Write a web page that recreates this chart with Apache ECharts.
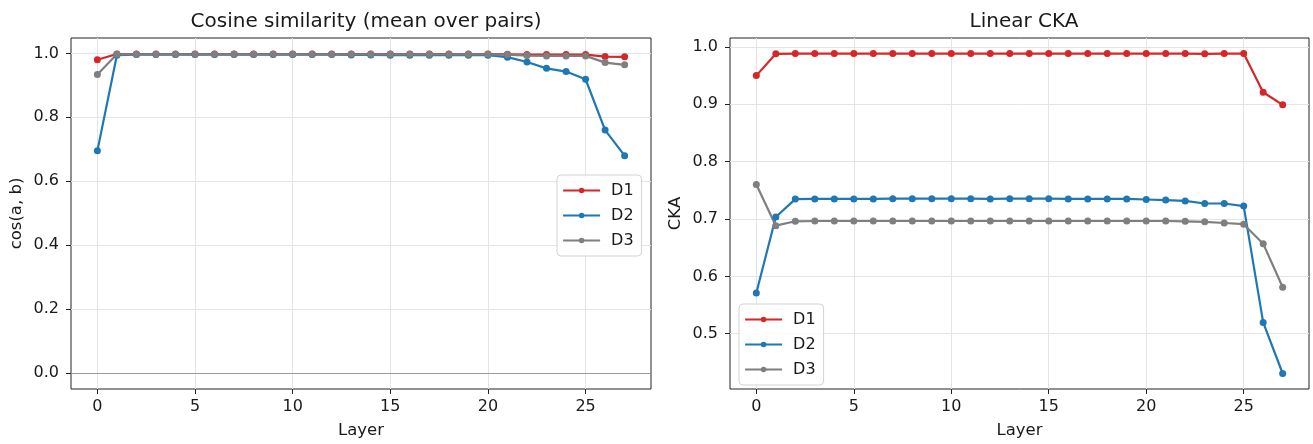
<!DOCTYPE html>
<html>
<head>
<meta charset="utf-8">
<script src="https://cdn.jsdelivr.net/npm/echarts@6/dist/echarts.min.js"></script>
<style>
html,body{margin:0;padding:0;background:#fff;}
#chart{width:1313px;height:444px;}
</style>
</head>
<body>
<div id="chart"></div>
<script>
var layers = [];
for (var i = 0; i < 28; i++) layers.push(i);

var xTicks = [0, 5, 10, 15, 20, 25];
var cosTicks = [0.0, 0.2, 0.4, 0.6, 0.8, 1.0];
var ckaTicks = [0.5, 0.6, 0.7, 0.8, 0.9, 1.0];

var cosD1 = [0.980, 0.998, 0.998, 0.998, 0.998, 0.998, 0.998, 0.998, 0.998, 0.998, 0.998, 0.998, 0.998, 0.998, 0.998, 0.998, 0.998, 0.998, 0.998, 0.998, 0.998, 0.997, 0.996, 0.996, 0.996, 0.996, 0.990, 0.989];
var cosD2 = [0.695, 0.994, 0.996, 0.996, 0.996, 0.996, 0.996, 0.996, 0.996, 0.996, 0.996, 0.996, 0.996, 0.995, 0.995, 0.994, 0.994, 0.994, 0.994, 0.994, 0.994, 0.988, 0.973, 0.953, 0.943, 0.919, 0.760, 0.680];
var cosD3 = [0.934, 0.997, 0.997, 0.997, 0.997, 0.997, 0.997, 0.997, 0.997, 0.997, 0.997, 0.997, 0.997, 0.997, 0.997, 0.997, 0.997, 0.997, 0.997, 0.997, 0.997, 0.996, 0.993, 0.992, 0.992, 0.992, 0.971, 0.964];

var ckaD1 = [0.950, 0.988, 0.9885, 0.9885, 0.9885, 0.9885, 0.9885, 0.9885, 0.9885, 0.9885, 0.9885, 0.9885, 0.9885, 0.9885, 0.9885, 0.9885, 0.9885, 0.9885, 0.9885, 0.9885, 0.9885, 0.9885, 0.9885, 0.988, 0.9885, 0.9885, 0.921, 0.899];
var ckaD2 = [0.571, 0.7035, 0.7347, 0.735, 0.735, 0.735, 0.735, 0.7355, 0.7355, 0.7355, 0.7355, 0.7355, 0.735, 0.7355, 0.7355, 0.7355, 0.735, 0.735, 0.735, 0.735, 0.734, 0.733, 0.7315, 0.727, 0.727, 0.7225, 0.5197, 0.4306];
var ckaD3 = [0.760, 0.6884, 0.696, 0.6965, 0.6965, 0.6965, 0.6965, 0.6965, 0.6965, 0.6965, 0.6965, 0.6965, 0.6965, 0.6965, 0.6965, 0.6965, 0.6965, 0.6965, 0.6965, 0.6965, 0.6965, 0.6965, 0.696, 0.695, 0.693, 0.691, 0.657, 0.581];

var seriesNames = ['D1', 'D2', 'D3'];
var colors = ['#d62728', '#1f77b4', '#7f7f7f'];

function pairs(vals) {
  return layers.map(function (l, i) { return [l, vals[i]]; });
}

var FONT = 'DejaVu Sans';
var frame = '#222222';
var gridColor = '#e4e4e4';
var txt = '#1a1a1a';

function xAxis(gridIndex) {
  return {
    type: 'value', gridIndex: gridIndex, min: -1.35, max: 28.35,
    name: 'Layer', nameLocation: 'middle', nameGap: 33,
    nameTextStyle: {fontFamily: FONT, fontSize: 16.5, color: txt},
    axisLine: {show: false, onZero: false},
    axisTick: {show: true, length: 5, lineStyle: {color: frame}, customValues: xTicks},
    axisLabel: {fontFamily: FONT, fontSize: 16, color: txt, margin: 10, customValues: xTicks},
    splitLine: {show: true, lineStyle: {color: gridColor, width: 1}}
  };
}
function yAxis(gridIndex, min, max, ticks, name) {
  return {
    type: 'value', gridIndex: gridIndex, min: min, max: max,
    name: name, nameLocation: 'middle', nameGap: 46, nameRotate: 90,
    nameTextStyle: {fontFamily: FONT, fontSize: 16.5, color: txt},
    axisLine: {show: false, onZero: false},
    axisTick: {show: true, length: 5, lineStyle: {color: frame}, customValues: ticks},
    axisLabel: {fontFamily: FONT, fontSize: 16, color: txt, margin: 12, customValues: ticks,
      formatter: function (v) { return v.toFixed(1); }},
    splitLine: {show: true, lineStyle: {color: gridColor, width: 1}}
  };
}

function makeSeries(name, vals, idx, gridIdx, extra) {
  var s = {
    name: name, type: 'line', xAxisIndex: gridIdx, yAxisIndex: gridIdx,
    data: pairs(vals), symbol: 'circle', symbolSize: 7, showSymbol: true,
    lineStyle: {color: colors[idx], width: 2.2},
    itemStyle: {color: colors[idx]},
    emphasis: {disabled: true}, animation: false
  };
  if (extra) for (var k in extra) s[k] = extra[k];
  return s;
}

function legend(left, top) {
  return {
    data: seriesNames, orient: 'vertical', left: left, top: top,
    itemWidth: 37, itemHeight: 7, itemGap: 6,
    padding: [6, 8, 6, 5],
    backgroundColor: 'rgba(255,255,255,0.85)', borderColor: '#d3d3d3', borderWidth: 1, borderRadius: 4,
    textStyle: {fontFamily: FONT, fontSize: 16, color: txt, lineHeight: 19, padding: [0, 0, 0, 6]},
    lineStyle: {width: 2.2},
    selectedMode: false
  };
}

var chart = echarts.init(document.getElementById('chart'), null, {renderer: 'canvas'});
chart.setOption({
  animation: false,
  backgroundColor: '#ffffff',
  textStyle: {fontFamily: FONT},
  title: [
    {text: 'Cosine similarity (mean over pairs)', left: 361, top: 7, textAlign: 'center',
      textStyle: {fontFamily: FONT, fontSize: 20, fontWeight: 'normal', color: txt}},
    {text: 'Linear CKA', left: 1019, top: 7, textAlign: 'center',
      textStyle: {fontFamily: FONT, fontSize: 20, fontWeight: 'normal', color: txt}}
  ],
  grid: [
    {left: 71, right: 662, top: 38, bottom: 52, show: true, borderColor: frame, borderWidth: 1, backgroundColor: 'transparent'},
    {left: 730, right: 4, top: 38, bottom: 52, show: true, borderColor: frame, borderWidth: 1, backgroundColor: 'transparent'}
  ],
  legend: [legend(557, 175), legend(739, 304)],
  xAxis: [xAxis(0), xAxis(1)],
  yAxis: [
    yAxis(0, -0.0499, 1.048, cosTicks, 'cos(a, b)'),
    yAxis(1, 0.4036, 1.0156, ckaTicks, 'CKA')
  ],
  series: [
    makeSeries('D1', cosD1, 0, 0, {
      markLine: {silent: true, symbol: 'none', label: {show: false},
        lineStyle: {color: '#9a9a9a', width: 1, type: 'solid'}, data: [{yAxis: 0}], animation: false}
    }),
    makeSeries('D2', cosD2, 1, 0),
    makeSeries('D3', cosD3, 2, 0),
    makeSeries('D1', ckaD1, 0, 1),
    makeSeries('D2', ckaD2, 1, 1),
    makeSeries('D3', ckaD3, 2, 1)
  ]
});
</script>
</body>
</html>
